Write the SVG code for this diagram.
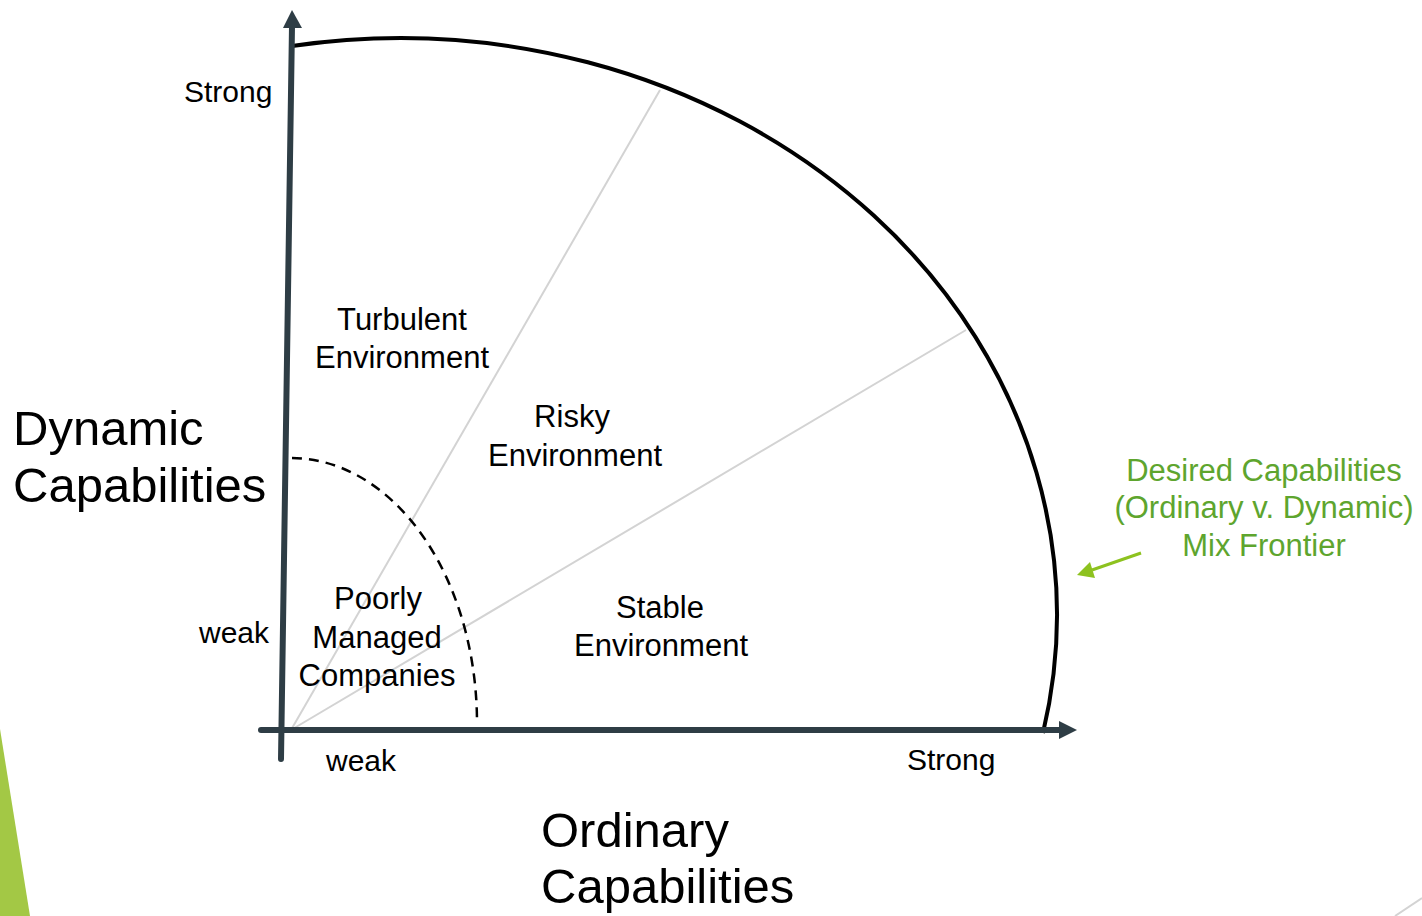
<svg xmlns="http://www.w3.org/2000/svg" width="1422" height="916" viewBox="0 0 1422 916">
<style>
text{font-family:"Liberation Sans",Arial,sans-serif;fill:#000}
.lbl{font-size:31px;text-anchor:middle}
.ax{font-size:30px}
.big{font-size:49px}
.grn{font-size:31px;fill:#5ea52e;text-anchor:middle}
.axis{stroke:#2e3d45;stroke-width:6;fill:none;stroke-linecap:round}
.ray{stroke:#d3d3d3;stroke-width:2;fill:none}
</style>
<rect width="1422" height="916" fill="#fff"/>
<polygon points="0,729 30,916 0,916" fill="#a3c845"/>
<line x1="1395" y1="916" x2="1422" y2="898" stroke="#d3d3d3" stroke-width="2"/>
<g id="connectors">
<line class="ray" x1="291" y1="730" x2="660" y2="90"/>
<line class="ray" x1="291" y1="730" x2="966" y2="330"/>
<path d="M292,46 A657,577 0 0,1 1043,733" fill="none" stroke="#000" stroke-width="4"/>
<path d="M292,458 A186,265 0 0,1 477,723" fill="none" stroke="#000" stroke-width="2.5" stroke-dasharray="10,7"/>
<line class="axis" x1="281" y1="759" x2="292" y2="26"/>
<polygon points="292,10 283,28 302,28" fill="#2e3d45"/>
<line class="axis" x1="261" y1="730" x2="1060" y2="730"/>
<polygon points="1077,730 1059,721 1059,739" fill="#2e3d45"/>
<line x1="1141" y1="553" x2="1092" y2="570" stroke="#8dc21f" stroke-width="3"/>
<polygon points="1077,575 1090,562 1095,578" fill="#8dc21f"/>
</g>
<g id="axis-y-labels">
<text class="ax" x="184" y="102">Strong</text>
<text class="ax" x="199" y="643">weak</text>
<text class="big" x="13" y="445">Dynamic</text>
<text class="big" x="13" y="502">Capabilities</text>
</g>
<g id="axis-x-labels">
<text class="ax" x="326" y="771">weak</text>
<text class="ax" x="907" y="770">Strong</text>
<text class="big" x="541" y="847">Ordinary</text>
<text class="big" x="541" y="903">Capabilities</text>
</g>
<g id="turbulent">
<text class="lbl" x="402" y="330">Turbulent</text>
<text class="lbl" x="402" y="368">Environment</text>
</g>
<g id="risky">
<text class="lbl" x="572" y="427">Risky</text>
<text class="lbl" x="575" y="466">Environment</text>
</g>
<g id="poorly">
<text class="lbl" x="378" y="609">Poorly</text>
<text class="lbl" x="377" y="648">Managed</text>
<text class="lbl" x="377" y="686">Companies</text>
</g>
<g id="stable">
<text class="lbl" x="660" y="618">Stable</text>
<text class="lbl" x="661" y="656">Environment</text>
</g>
<g id="frontier">
<text class="grn" x="1264" y="481">Desired Capabilities</text>
<text class="grn" x="1264" y="518">(Ordinary v. Dynamic)</text>
<text class="grn" x="1264" y="556">Mix Frontier</text>
</g>
</svg>
